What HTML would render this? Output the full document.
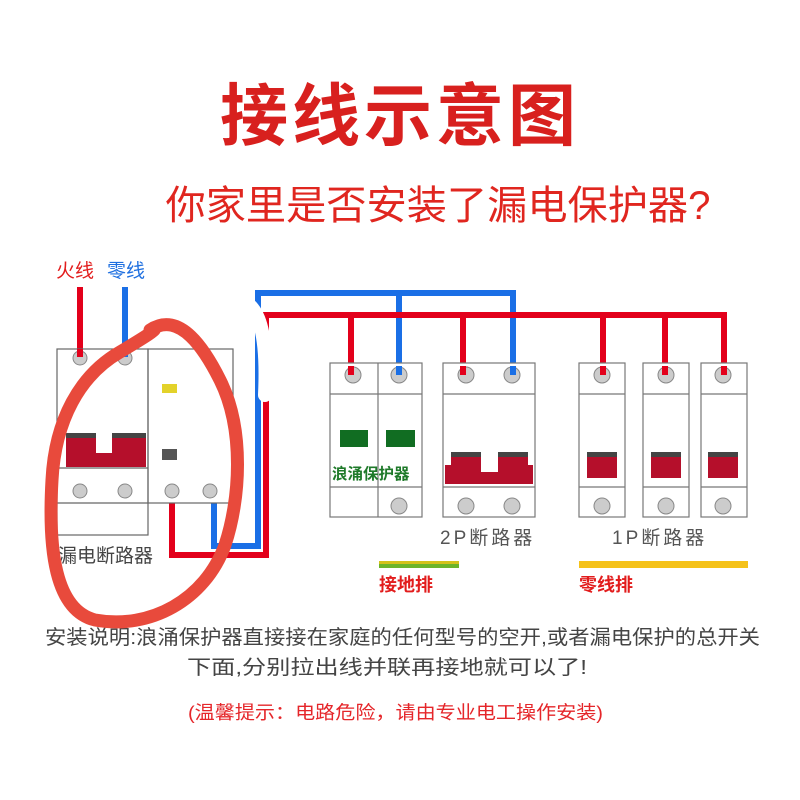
<!DOCTYPE html>
<html><head><meta charset="utf-8"><style>
html,body{margin:0;padding:0;background:#fff;}
svg{display:block;font-family:"Liberation Sans","Noto Sans CJK SC",sans-serif;}
</style></head><body>
<svg width="800" height="800" viewBox="0 0 800 800" xmlns="http://www.w3.org/2000/svg">
<rect width="800" height="800" fill="#fff"/>
<text x="400" y="140" text-anchor="middle" font-size="68" font-weight="bold" fill="#d8201e" letter-spacing="4">接线示意图</text>
<text x="438" y="219" text-anchor="middle" font-size="40" fill="#e0261f" textLength="545" lengthAdjust="spacingAndGlyphs">你家里是否安装了漏电保护器?</text>

<text x="56" y="277" font-size="19" fill="#e21c1c">火线</text>
<text x="107" y="277" font-size="19" fill="#1e6fe0">零线</text>

<!-- wires -->
<g fill="none" stroke-width="6">
<path d="M80 287 V357" stroke="#e3001b"/>
<path d="M125 287 V357" stroke="#1a6fe6"/>
<path d="M214 503 V546 H258 V293 H513 V375" stroke="#1a6fe6"/>
<path d="M399 293 V375" stroke="#1a6fe6"/>
<path d="M172 503 V555 H266 V315 H724 V375" stroke="#e3001b"/>
<path d="M351 315 V375 M463 315 V375 M603 315 V375 M665 315 V375" stroke="#e3001b"/>
</g>
<path d="M240 300 C258 305 268 330 265 395" stroke="#fff" stroke-width="14" fill="none" stroke-linecap="round"/>

<!-- RCD -->
<g stroke="#666" stroke-width="1.2" fill="#fff">
<rect x="57" y="349" width="91" height="186"/>
<rect x="148" y="349" width="85" height="154" fill="none"/>
<line x1="57" y1="468" x2="148" y2="468"/>
<line x1="57" y1="503" x2="148" y2="503"/>
</g>
<path d="M66 433 H96 V453 H112 V433 H146 V467 H66Z" fill="#b50f2b"/>
<rect x="66" y="433" width="30" height="5" fill="#444"/><rect x="112" y="433" width="34" height="5" fill="#444"/>
<rect x="162" y="384" width="15" height="9" fill="#e3d22a"/>
<rect x="162" y="449" width="15" height="11" fill="#555"/>
<g fill="#ccc" stroke="#888" stroke-width="1">
<circle cx="80" cy="358" r="7"/><circle cx="125" cy="358" r="7"/>
<circle cx="80" cy="491" r="7"/><circle cx="125" cy="491" r="7"/>
<circle cx="172" cy="491" r="7"/><circle cx="210" cy="491" r="7"/>
</g>
<rect x="77" y="349" width="6" height="8" fill="#e3001b"/><rect x="122" y="349" width="6" height="8" fill="#1a6fe6"/>
<text x="58" y="562" font-size="19" fill="#444">漏电断路器</text>

<g stroke="#777" stroke-width="1.2" fill="#fff">
<rect x="330" y="363" width="92" height="154"/>
<line x1="378" y1="363" x2="378" y2="517"/>
<line x1="330" y1="394" x2="422" y2="394"/>
<line x1="330" y1="487" x2="422" y2="487"/>
<rect x="443" y="363" width="92" height="154"/>
<line x1="443" y1="394" x2="535" y2="394"/>
<line x1="443" y1="487" x2="535" y2="487"/>
<rect x="579" y="363" width="46" height="154"/>
<rect x="643" y="363" width="46" height="154"/>
<rect x="701" y="363" width="46" height="154"/>
<line x1="579" y1="394" x2="625" y2="394"/><line x1="579" y1="487" x2="625" y2="487"/>
<line x1="643" y1="394" x2="689" y2="394"/><line x1="643" y1="487" x2="689" y2="487"/>
<line x1="701" y1="394" x2="747" y2="394"/><line x1="701" y1="487" x2="747" y2="487"/>
</g>
<rect x="340" y="430" width="28" height="17" fill="#116d22"/>
<rect x="386" y="430" width="29" height="17" fill="#116d22"/>
<text x="332" y="479" font-size="15.5" font-weight="bold" fill="#1f7a2a">浪涌保护器</text>
<path d="M451 452 H481 V472 H498 V452 H528 V465 H533 V484 H445 V465 H451Z" fill="#b50f2b"/>
<rect x="451" y="452" width="30" height="5" fill="#444"/><rect x="498" y="452" width="30" height="5" fill="#444"/>
<g fill="#b50f2b"><rect x="587" y="452" width="30" height="26"/><rect x="651" y="452" width="30" height="26"/><rect x="708" y="452" width="30" height="26"/></g>
<g fill="#444"><rect x="587" y="452" width="30" height="5"/><rect x="651" y="452" width="30" height="5"/><rect x="708" y="452" width="30" height="5"/></g>
<g fill="#ccc" stroke="#888" stroke-width="1">
<circle cx="353" cy="375" r="8"/><circle cx="399" cy="375" r="8"/><circle cx="399" cy="506" r="8"/>
<circle cx="466" cy="375" r="8"/><circle cx="512" cy="375" r="8"/><circle cx="466" cy="506" r="8"/><circle cx="512" cy="506" r="8"/>
<circle cx="602" cy="375" r="8"/><circle cx="666" cy="375" r="8"/><circle cx="723" cy="375" r="8"/>
<circle cx="602" cy="506" r="8"/><circle cx="666" cy="506" r="8"/><circle cx="723" cy="506" r="8"/>
</g>
<g fill="#e3001b"><rect x="348" y="366" width="6" height="9"/><rect x="460" y="366" width="6" height="9"/><rect x="600" y="366" width="6" height="9"/><rect x="662" y="366" width="6" height="9"/><rect x="721" y="366" width="6" height="9"/></g>
<g fill="#1a6fe6"><rect x="396" y="366" width="6" height="9"/><rect x="510" y="366" width="6" height="9"/></g>
<text x="440" y="544" font-size="19" fill="#555" letter-spacing="3">2P断路器</text>
<text x="612" y="544" font-size="19" fill="#555" letter-spacing="3">1P断路器</text>
<rect x="379" y="561" width="80" height="7" fill="#6cb52a"/><rect x="379" y="561" width="80" height="3" fill="#d4c21a"/>
<rect x="579" y="561" width="169" height="7" fill="#f5c21a"/>
<text x="379" y="591" font-size="18" font-weight="bold" fill="#e21c1c">接地排</text>
<text x="579" y="591" font-size="18" font-weight="bold" fill="#e21c1c">零线排</text>

<text x="45" y="644" font-size="20" fill="#444" textLength="715" lengthAdjust="spacingAndGlyphs">安装说明:浪涌保护器直接接在家庭的任何型号的空开,或者漏电保护的总开关</text>
<text x="187" y="674" font-size="20" fill="#444" textLength="400" lengthAdjust="spacingAndGlyphs">下面,分别拉出线并联再接地就可以了!</text>
<text x="188" y="719" font-size="18.5" fill="#e5262a" textLength="415" lengthAdjust="spacingAndGlyphs">(温馨提示：电路危险，请由专业电工操作安装)</text>

<path d="M150 330 C180 310 205 350 220 380 C245 430 240 500 225 545 C205 600 150 630 95 620 C55 610 48 550 52 480 C55 420 80 375 120 352 C140 340 165 325 150 330" fill="none" stroke="#e84a3c" stroke-width="13" stroke-linecap="round"/>
</svg>
</body></html>
